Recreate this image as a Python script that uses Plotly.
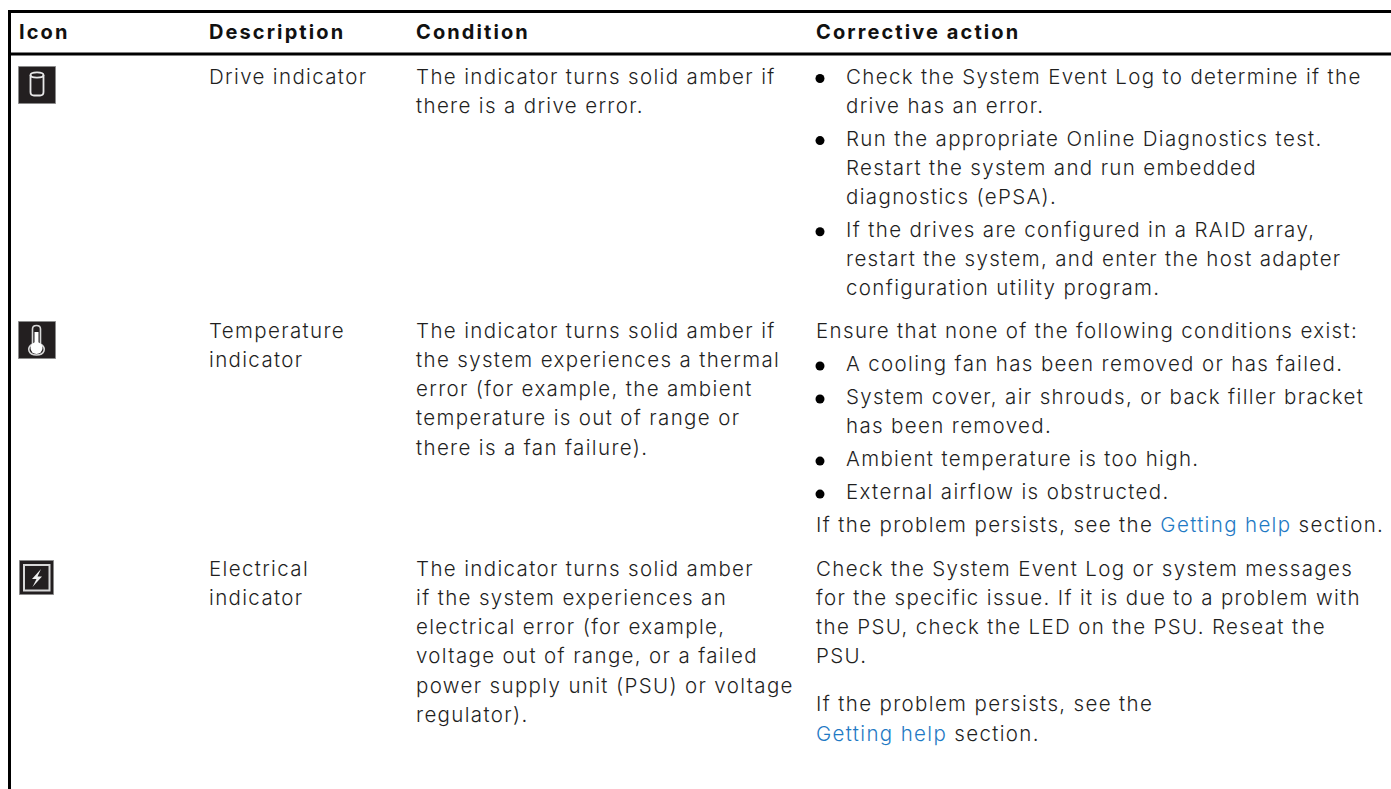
import plotly.graph_objects as go

WIDTH, HEIGHT = 1391, 789
FONT = "Inter"
INK = "#1f1f1f"
LINK = "#1f7ac4"

HEADERS = ["Icon", "Description", "Condition", "Corrective action"]
DESCRIPTION = [["Drive indicator"], ["Temperature", "indicator"], ["Electrical", "indicator"]]
CONDITION = [
    ["The indicator turns solid amber if", "there is a drive error."],
    ["The indicator turns solid amber if", "the system experiences a thermal", "error (for example, the ambient",
     "temperature is out of range or", "there is a fan failure)."],
    ["The indicator turns solid amber", "if the system experiences an", "electrical error (for example,",
     "voltage out of range, or a failed", "power supply unit (PSU) or voltage", "regulator)."],
]
LINKED = f'<span style="color:{LINK}">Getting help</span>'
# each block: (is_bullet, lines)
CORRECTIVE = [
    [(True, ["Check the System Event Log to determine if the", "drive has an error."]),
     (True, ["Run the appropriate Online Diagnostics test.", "Restart the system and run embedded", "diagnostics (ePSA)."]),
     (True, ["If the drives are configured in a RAID array,", "restart the system, and enter the host adapter",
             "configuration utility program."])],
    [(False, ["Ensure that none of the following conditions exist:"]),
     (True, ["A cooling fan has been removed or has failed."]),
     (True, ["System cover, air shrouds, or back filler bracket", "has been removed."]),
     (True, ["Ambient temperature is too high."]),
     (True, ["External airflow is obstructed."]),
     (False, [f"If the problem persists, see the {LINKED} section."])],
    [(False, ["Check the System Event Log or system messages", "for the specific issue. If it is due to a problem with",
              "the PSU, check the LED on the PSU. Reseat the", "PSU."]),
     (False, ["If the problem persists, see the", f"{LINKED} section."])],
]

# ---- page geometry (pixels) ----
COL_X = [19, 209, 416, 816]
BULLET_X, BULLET_TEXT_X = 820, 846
ROW_FIRST_Y = [78.5, 333, 571]
PITCH = 29.1
BLOCK_STEP = [33, 33, 48]
HEADER_Y = 34
TEXT_SIZE = 20.5
HEAD_SIZE = 20
TEXT_SPACING = "1.35px"
HEAD_SPACING = "2.1px"

xs, ys, texts = [], [], []
bx, by = [], []


def add(x, y, t):
    xs.append(x); ys.append(y); texts.append(t)


for r, top in enumerate(ROW_FIRST_Y):
    for i, t in enumerate(DESCRIPTION[r]):
        add(COL_X[1], top + i * PITCH, t)
    for i, t in enumerate(CONDITION[r]):
        add(COL_X[2], top + i * PITCH, t)
    y = top
    for bullet, lines in CORRECTIVE[r]:
        if bullet:
            bx.append(BULLET_X); by.append(y)
        for i, t in enumerate(lines):
            add(BULLET_TEXT_X if bullet else COL_X[3], y + i * PITCH, t)
        y += (len(lines) - 1) * PITCH + BLOCK_STEP[r]

fig = go.Figure()
fig.add_trace(go.Scatter(x=xs, y=ys, text=texts, mode="text", textposition="middle right", cliponaxis=False,
                         textfont=dict(family=FONT, size=TEXT_SIZE, color=INK, weight=300), hoverinfo="skip"))
fig.add_trace(go.Scatter(x=COL_X, y=[HEADER_Y] * 4, text=HEADERS, mode="text", textposition="middle right",
                         textfont=dict(family=FONT, size=HEAD_SIZE, color="#111111", weight=700), hoverinfo="skip"))
fig.add_trace(go.Scatter(x=bx, y=by, mode="markers", marker=dict(symbol="circle", size=9, color="#000000"),
                         hoverinfo="skip"))

shapes = []
BLACK = dict(color="#000000", width=3)
shapes.append(dict(type="line", x0=8, x1=WIDTH, y0=11.5, y1=11.5, line=BLACK))
shapes.append(dict(type="line", x0=8, x1=WIDTH, y0=54, y1=54, line=BLACK))
shapes.append(dict(type="line", x0=9.5, x1=9.5, y0=10, y1=HEIGHT, line=BLACK))


def icon_box(x, y, size=37):
    shapes.append(dict(type="rect", x0=x, x1=x + size, y0=y, y1=y + size,
                       fillcolor="#231f20", line=dict(color="#8a8a8a", width=1)))


WHITE = dict(color="#e8e8e8", width=1.8)
# drive icon
icon_box(18.5, 66.5)
shapes.append(dict(type="path", line=WHITE,
                   path="M30.5 75 C30.5 71.5 43.5 71.5 43.5 75 L43.5 92 Q43.5 95.5 40 95.5 L34 95.5 Q30.5 95.5 30.5 92 Z"))
shapes.append(dict(type="path", line=WHITE, path="M30.5 75 C30.5 78.5 43.5 78.5 43.5 75"))
# thermometer icon
icon_box(18.5, 321.5)
shapes.append(dict(type="path", line=dict(color="#d8d8d8", width=1.6),
                   path="M32.5 344 L32.5 329 Q32.5 325.5 36.5 325.5 Q40.5 325.5 40.5 329 L40.5 344 "
                        "C47 348 44.5 355 36.5 355 C28.5 355 26 348 32.5 344 Z"))
shapes.append(dict(type="circle", x0=30.5, x1=42.5, y0=342, y1=354, fillcolor="#ffffff", line=dict(width=0)))
shapes.append(dict(type="rect", x0=34.5, x1=38.5, y0=332, y1=345, fillcolor="#ffffff", line=dict(width=0)))
# electrical icon
icon_box(19.5, 560.5, 34)
shapes.append(dict(type="rect", x0=24, x1=49.5, y0=565, y1=590.5, fillcolor="#231f20",
                   line=dict(color="#d8d8d8", width=2)))
shapes.append(dict(type="path", fillcolor="#f0f0f0", line=dict(width=0),
                   path="M41 569 L32 579 L36.5 579 L32.5 587 L42 576.5 L37.5 576.5 Z"))

fig.update_layout(
    width=WIDTH, height=HEIGHT, margin=dict(l=0, r=0, t=0, b=0),
    paper_bgcolor="#ffffff", plot_bgcolor="#ffffff", showlegend=False, shapes=shapes,
    xaxis=dict(range=[0, WIDTH], visible=False, fixedrange=True),
    yaxis=dict(range=[HEIGHT, 0], visible=False, fixedrange=True),
)
css = (f".scatterlayer .trace:nth-child(1) text{{letter-spacing:{TEXT_SPACING}}}"
       f".scatterlayer .trace:nth-child(2) text{{letter-spacing:{HEAD_SPACING}}}")
post = ("document.body.style.margin='0';document.body.style.overflow='hidden';"
        f"var s=document.createElement('style');s.textContent='{css}';document.head.appendChild(s);")
fig.write_html("out.html", post_script=post, config={"displayModeBar": False})
